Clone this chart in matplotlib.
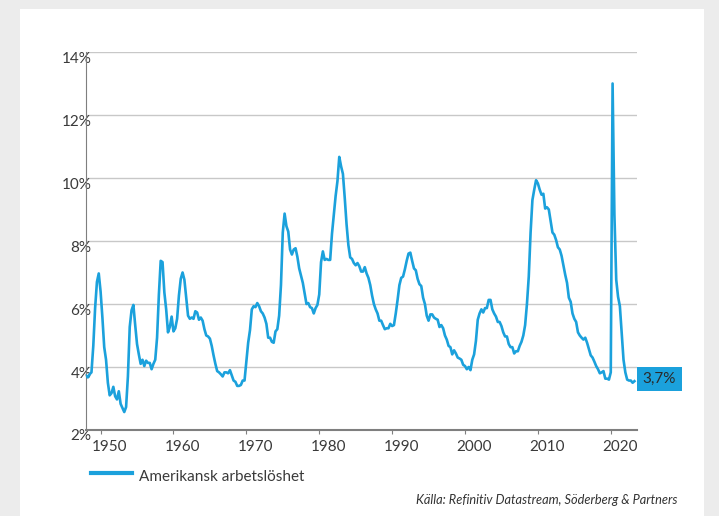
import numpy as np
import matplotlib.pyplot as plt
from matplotlib.patches import Rectangle
import matplotlib.transforms as mtransforms

# quarterly US unemployment rate (%), 1948 Q1 .. 2023 Q2
start_year = 1948
unemployment = [
    3.73, 3.67, 3.77, 3.83,   # 1948
    4.67, 5.87, 6.70, 6.97,   # 1949
    6.40, 5.57, 4.63, 4.23,   # 1950
    3.50, 3.10, 3.17, 3.37,   # 1951
    3.07, 2.97, 3.23, 2.83,   # 1952
    2.70, 2.57, 2.73, 3.70,   # 1953
    5.27, 5.80, 5.97, 5.33,   # 1954
    4.73, 4.40, 4.10, 4.23,   # 1955
    4.03, 4.20, 4.13, 4.13,   # 1956
    3.93, 4.10, 4.23, 4.93,   # 1957
    6.30, 7.37, 7.33, 6.37,   # 1958
    5.83, 5.10, 5.27, 5.60,   # 1959
    5.13, 5.23, 5.53, 6.27,   # 1960
    6.80, 7.00, 6.77, 6.20,   # 1961
    5.63, 5.53, 5.57, 5.53,   # 1962
    5.77, 5.73, 5.50, 5.57,   # 1963
    5.47, 5.20, 5.00, 4.97,   # 1964
    4.90, 4.67, 4.37, 4.10,   # 1965
    3.87, 3.83, 3.77, 3.70,   # 1966
    3.83, 3.83, 3.80, 3.90,   # 1967
    3.73, 3.57, 3.53, 3.40,   # 1968
    3.40, 3.43, 3.57, 3.57,   # 1969
    4.17, 4.77, 5.17, 5.83,   # 1970
    5.93, 5.90, 6.03, 5.93,   # 1971
    5.77, 5.70, 5.57, 5.37,   # 1972
    4.93, 4.93, 4.80, 4.77,   # 1973
    5.13, 5.20, 5.63, 6.60,   # 1974
    8.27, 8.87, 8.47, 8.30,   # 1975
    7.73, 7.57, 7.73, 7.77,   # 1976
    7.50, 7.13, 6.90, 6.67,   # 1977
    6.33, 6.00, 6.03, 5.90,   # 1978
    5.87, 5.70, 5.87, 5.97,   # 1979
    6.30, 7.33, 7.67, 7.40,   # 1980
    7.43, 7.40, 7.40, 8.23,   # 1981
    8.83, 9.43, 9.90, 10.67,  # 1982
    10.37, 10.13, 9.37, 8.53, # 1983
    7.87, 7.48, 7.43, 7.30,   # 1984
    7.23, 7.30, 7.20, 7.03,   # 1985
    7.03, 7.17, 6.97, 6.83,   # 1986
    6.60, 6.27, 6.00, 5.83,   # 1987
    5.70, 5.47, 5.47, 5.33,   # 1988
    5.20, 5.23, 5.23, 5.37,   # 1989
    5.30, 5.33, 5.70, 6.13,   # 1990
    6.60, 6.83, 6.87, 7.10,   # 1991
    7.37, 7.60, 7.63, 7.37,   # 1992
    7.13, 7.07, 6.80, 6.63,   # 1993
    6.57, 6.20, 6.00, 5.63,   # 1994
    5.47, 5.67, 5.67, 5.57,   # 1995
    5.53, 5.50, 5.27, 5.33,   # 1996
    5.23, 5.00, 4.87, 4.67,   # 1997
    4.63, 4.40, 4.53, 4.43,   # 1998
    4.30, 4.27, 4.23, 4.07,   # 1999
    4.03, 3.93, 4.00, 3.90,   # 2000
    4.23, 4.40, 4.83, 5.50,   # 2001
    5.70, 5.83, 5.73, 5.87,   # 2002
    5.87, 6.13, 6.13, 5.83,   # 2003
    5.70, 5.60, 5.43, 5.43,   # 2004
    5.30, 5.10, 4.97, 4.97,   # 2005
    4.73, 4.63, 4.63, 4.43,   # 2006
    4.50, 4.50, 4.67, 4.80,   # 2007
    5.00, 5.33, 6.00, 6.87,   # 2008
    8.27, 9.30, 9.63, 9.93,   # 2009
    9.83, 9.63, 9.47, 9.50,   # 2010
    9.03, 9.07, 9.00, 8.63,   # 2011
    8.27, 8.20, 8.03, 7.80,   # 2012
    7.73, 7.53, 7.23, 6.93,   # 2013
    6.67, 6.20, 6.07, 5.70,   # 2014
    5.53, 5.43, 5.10, 5.00,   # 2015
    4.93, 4.87, 4.93, 4.77,   # 2016
    4.57, 4.37, 4.30, 4.17,   # 2017
    4.03, 3.93, 3.80, 3.83,   # 2018
    3.87, 3.63, 3.63, 3.60,   # 2019
    3.83, 13.00, 8.83, 6.77,  # 2020
    6.23, 5.93, 5.07, 4.23,   # 2021
    3.83, 3.60, 3.57, 3.57,   # 2022
    3.50, 3.55,               # 2023
]
years = start_year + np.arange(len(unemployment)) / 4.0

year_ticks = [1950, 1960, 1970, 1980, 1990, 2000, 2010, 2020]
pct_ticks = [2, 4, 6, 8, 10, 12, 14]
series_label = "Amerikansk arbetslöshet"
last_label = "3,7%"
source = "Källa: Refinitiv Datastream, Söderberg & Partners"

blue = "#1ba1dc"
text_col = "#3a3a3a"
plt.rcParams['font.family'] = ['Lato', 'DejaVu Sans']

W, H = 719, 516
fig = plt.figure(figsize=(W / 100, H / 100), dpi=100, facecolor="#ececec")
fig.add_artist(Rectangle((20 / W, 0), 684 / W, (H - 9) / H, transform=fig.transFigure,
                         facecolor="white", edgecolor="none", zorder=-10))

ax = fig.add_axes([86 / W, (H - 430) / H, 551 / W, 378 / H])
ax.set_facecolor("none")
ax.plot(years, unemployment, color=blue, lw=1.9, solid_joinstyle="round", zorder=3)

ax.set_xlim(1948, 2023.6)
ax.set_ylim(2, 14)
ax.set_yticks(pct_ticks)
ax.set_yticklabels([f"{p}%" for p in pct_ticks])
ax.set_xticks(year_ticks)
ax.set_xticklabels([str(y) for y in year_ticks])
ax.grid(axis="y", color="#c8c8c8", lw=1)
ax.set_axisbelow(True)
for s in ["top", "right"]:
    ax.spines[s].set_visible(False)
ax.spines["left"].set_color("#7f7f7f")
ax.spines["bottom"].set_color("#7f7f7f")
ax.spines["bottom"].set_linewidth(1.5)
ax.tick_params(axis="y", length=0, pad=-4, labelsize=11, labelcolor=text_col)
ax.tick_params(axis="x", length=3, color="#7f7f7f", pad=4, labelsize=11, labelcolor=text_col)
xoff = mtransforms.ScaledTranslation(9 / 100, 0, fig.dpi_scale_trans)
for lab in ax.get_xticklabels():
    lab.set_transform(lab.get_transform() + xoff)
yoff = mtransforms.ScaledTranslation(0, -5 / 100, fig.dpi_scale_trans)
for lab in ax.get_yticklabels():
    lab.set_transform(lab.get_transform() + yoff)

# end value tag, placed level with the last value
tag_y = unemployment[-1]
_, ty = ax.transData.transform((0, tag_y))
ty += 2
fig.add_artist(Rectangle((637 / W, (ty - 11.7) / H), 45 / W, 23.4 / H,
                         transform=fig.transFigure, facecolor=blue, edgecolor="none", zorder=5))
fig.text(659.5 / W, ty / H, last_label, ha="center", va="center",
         fontsize=11, color="#2a2a2a", zorder=6)

# legend
fig.add_artist(plt.Line2D([91 / W, 132 / W], [(H - 472.5) / H] * 2, transform=fig.transFigure,
                          color=blue, lw=3))
fig.text(139 / W, (H - 477) / H, series_label, fontsize=11, color=text_col, va="center")
fig.text(677 / W, (H - 500) / H, source, fontsize=9.2, style="italic", color="#333333",
         ha="right", va="center")

fig.savefig("out.png", dpi=100, facecolor=fig.get_facecolor())
